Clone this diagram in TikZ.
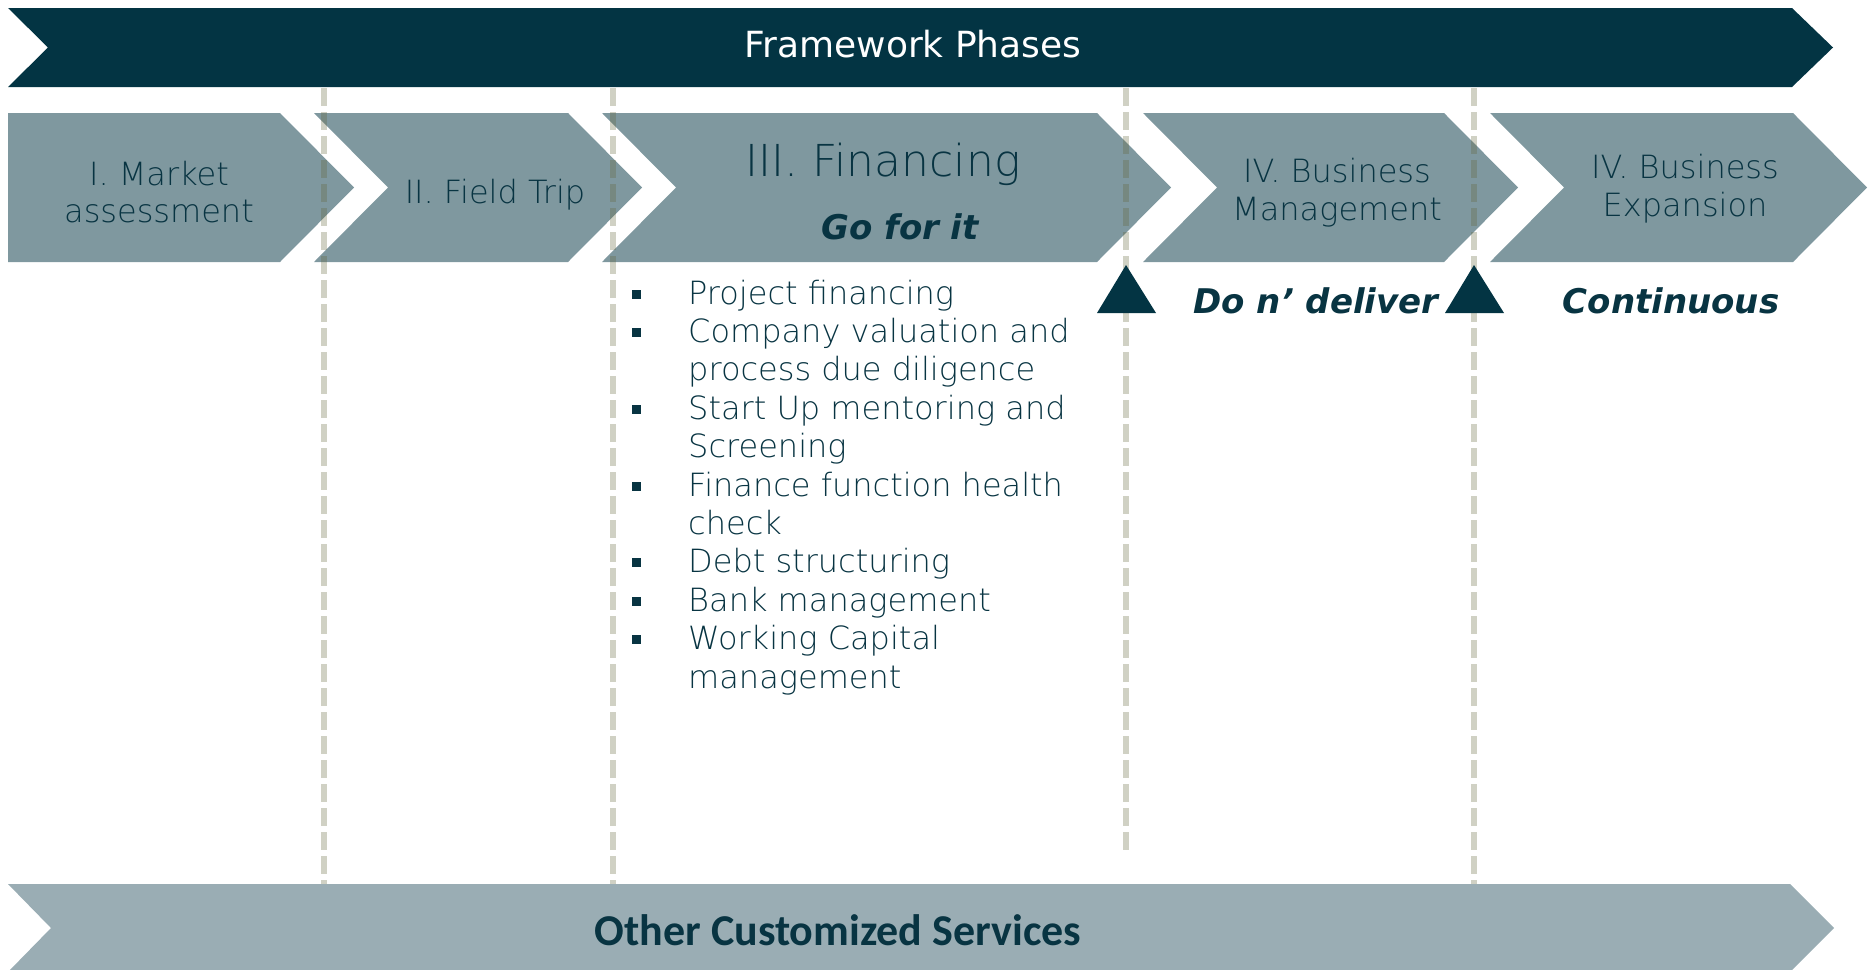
\documentclass[tikz,border=0pt]{standalone}
\usepackage{fontspec}
\IfFontExistsTF{DejaVu Sans ExtraLight}{\setmainfont{DejaVu Sans}[UprightFont={DejaVu Sans ExtraLight}]}{\setmainfont{DejaVu Sans}}
\newfontfamily\emfont{DejaVu Sans}
\newfontfamily\servfont{Carlito}
\definecolor{navy}{RGB}{3,52,67}
\definecolor{chev}{RGB}{127,152,159}
\definecolor{lowbar}{RGB}{154,173,180}
\definecolor{guidec}{RGB}{98,102,58}
\definecolor{txt}{RGB}{8,52,66}
\begin{document}
\begin{tikzpicture}[x=1pt,y=-1pt,
  chevfill/.style={fill=chev},
  phasetext/.style={text=txt, font=\fontsize{32}{38}\selectfont, anchor=base, inner sep=0pt},
  bigtext/.style={text=txt, font=\fontsize{44}{50}\selectfont, anchor=base, inner sep=0pt},
  mottotext/.style={text=txt, font=\emfont\bfseries\itshape\fontsize{34}{40}\selectfont, anchor=base, inner sep=0pt},
  listtext/.style={text=txt, font=\fontsize{32}{38}\selectfont, anchor=base west, inner sep=0pt},
  bulletsq/.style={fill=txt, minimum size=9pt, inner sep=0pt},
  guideline/.style={draw=guidec, draw opacity=0.3, line width=6.5pt, dash pattern=on 18pt off 6pt},
  marker/.style={fill=navy}]
\useasboundingbox (0,0) rectangle (1870,969);
\clip (0,0) rectangle (1870,969);
% top bar
\fill[navy] (8,8) -- (1792,8) -- (1833,47.5) -- (1792,87) -- (8,87) -- (48,47.5) -- cycle;
\node[anchor=base, text=white, inner sep=0pt, font=\emfont\fontsize{36}{42}\selectfont] (title) at (913,57) {Framework Phases};
% phase chevrons
\fill[chevfill] (8,113) -- (280,113) -- (354,187.5) -- (280,262) -- (8,262) -- cycle;
\fill[chevfill] (314,113) -- (568,113) -- (642,187.5) -- (568,262) -- (314,262) -- (388,187.5) -- cycle;
\fill[chevfill] (602,113) -- (1097,113) -- (1171,187.5) -- (1097,262) -- (602,262) -- (676,187.5) -- cycle;
\fill[chevfill] (1143,113) -- (1444,113) -- (1518,187.5) -- (1444,262) -- (1143,262) -- (1217,187.5) -- cycle;
\fill[chevfill] (1490,113) -- (1793,113) -- (1867,187.5) -- (1793,262) -- (1490,262) -- (1564,187.5) -- cycle;
% bottom bar
\fill[lowbar] (8,884) -- (1790,884) -- (1834,928) -- (1790,972) -- (8,972) -- (51,928) -- cycle;
\node[anchor=base, text=txt, inner sep=0pt, font=\servfont\bfseries\fontsize{44}{50}\selectfont] (services) at (838,945) {Other Customized Services};
% guide lines
\coordinate (g1t) at (324,88); \coordinate (g1b) at (324,884);
\coordinate (g2t) at (613,88); \coordinate (g2b) at (613,884);
\coordinate (g3t) at (1126,88); \coordinate (g3b) at (1126,853);
\coordinate (g4t) at (1474,88); \coordinate (g4b) at (1474,884);
\draw[guideline] (g1t) -- (g1b);
\draw[guideline] (g2t) -- (g2b);
\draw[guideline] (g3t) -- (g3b);
\draw[guideline] (g4t) -- (g4b);
% markers
\fill[marker] (1126,265) -- (1156,313) -- (1097,313) -- cycle;
\fill[marker] (1474,265) -- (1504,313) -- (1445,313) -- cycle;
% phase texts
\node[phasetext] (p1a) at (159,185) {I. Market};
\node[phasetext] (p1b) at (159,222) {assessment};
\node[phasetext] (p2) at (495,203) {II. Field Trip};
\node[bigtext] (p3) at (883,176) {III. Financing};
\node[mottotext] (m3) at (900,239) {Go for it};
\node[phasetext] (p4a) at (1337,182) {IV. Business};
\node[phasetext] (p4b) at (1337,220) {Management};
\node[phasetext] (p5a) at (1685,178) {IV. Business};
\node[phasetext] (p5b) at (1685,216) {Expansion};
\node[mottotext] (m4) at (1316,313) {Do n’ deliver};
\node[mottotext] (m5) at (1671,313) {Continuous};
% list
\node[listtext] (l1) at (688,304) {Project financing};
\node[listtext] (l2) at (688,342.4) {Company valuation and};
\node[listtext] (l3) at (688,380.8) {process due diligence};
\node[listtext] (l4) at (688,419.2) {Start Up mentoring and};
\node[listtext] (l5) at (688,457.6) {Screening};
\node[listtext] (l6) at (688,496) {Finance function health};
\node[listtext] (l7) at (688,534.4) {check};
\node[listtext] (l8) at (688,572.8) {Debt structuring};
\node[listtext] (l9) at (688,611.2) {Bank management};
\node[listtext] (l10) at (688,649.6) {Working Capital};
\node[listtext] (l11) at (688,688) {management};
\node[bulletsq] (b1) at (636,294) {};
\node[bulletsq] (b2) at (636,332.4) {};
\node[bulletsq] (b4) at (636,409.2) {};
\node[bulletsq] (b6) at (636,486) {};
\node[bulletsq] (b8) at (636,562.8) {};
\node[bulletsq] (b9) at (636,601.2) {};
\node[bulletsq] (b10) at (636,639.6) {};
\end{tikzpicture}
\end{document}
